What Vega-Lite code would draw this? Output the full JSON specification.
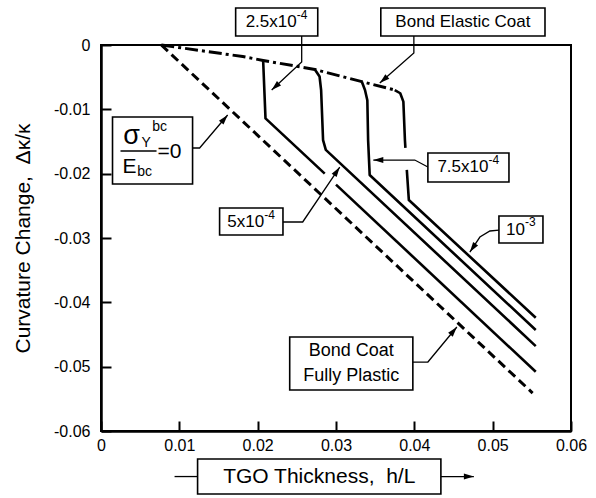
{
  "$schema": "https://vega.github.io/schema/vega-lite/v6.json",
  "width": 470,
  "height": 386,
  "autosize": {"type": "none"},
  "padding": {"left": 101, "top": 45, "right": 25, "bottom": 67},
  "background": "white",
  "config": {
    "view": {"stroke": "black", "strokeWidth": 2},
    "font": "Liberation Sans",
    "axis": {
      "grid": false,
      "domainColor": "black",
      "domainWidth": 2.5,
      "tickColor": "black",
      "tickWidth": 2,
      "tickSize": -10,
      "labelFont": "Liberation Sans",
      "labelFontSize": 16,
      "labelColor": "black",
      "labelFlush": false,
      "labelOverlap": false
    }
  },
  "datasets": {
    "curves": [
      {"series": "plastic", "i": 0, "x": 0.0077, "y": 0},
      {"series": "plastic", "i": 1, "x": 0.0551, "y": -0.0541},
      {"series": "elastic", "i": 0, "x": 0.0077, "y": 0},
      {"series": "elastic", "i": 1, "x": 0.0181, "y": -0.0018},
      {"series": "elastic", "i": 2, "x": 0.0207, "y": -0.0024},
      {"series": "elastic", "i": 3, "x": 0.0273, "y": -0.0038},
      {"series": "elastic", "i": 4, "x": 0.0333, "y": -0.0057},
      {"series": "elastic", "i": 5, "x": 0.0375, "y": -0.0070},
      {"series": "s25a", "i": 0, "x": 0.0207, "y": -0.0024},
      {"series": "s25a", "i": 1, "x": 0.0210, "y": -0.0114},
      {"series": "s25a", "i": 2, "x": 0.02856, "y": -0.0200},
      {"series": "s25b", "i": 0, "x": 0.0300, "y": -0.0217},
      {"series": "s25b", "i": 1, "x": 0.0555, "y": -0.0508},
      {"series": "s50", "i": 0, "x": 0.0273, "y": -0.0038},
      {"series": "s50", "i": 1, "x": 0.0279, "y": -0.0049},
      {"series": "s50", "i": 2, "x": 0.0281, "y": -0.0070},
      {"series": "s50", "i": 3, "x": 0.02835, "y": -0.0148},
      {"series": "s50", "i": 4, "x": 0.0287, "y": -0.0163},
      {"series": "s50", "i": 5, "x": 0.0555, "y": -0.0468},
      {"series": "s75", "i": 0, "x": 0.0333, "y": -0.0057},
      {"series": "s75", "i": 1, "x": 0.0337, "y": -0.0070},
      {"series": "s75", "i": 2, "x": 0.0340, "y": -0.0086},
      {"series": "s75", "i": 3, "x": 0.0341, "y": -0.0148},
      {"series": "s75", "i": 4, "x": 0.0343, "y": -0.0202},
      {"series": "s75", "i": 5, "x": 0.0555, "y": -0.0443},
      {"series": "s100a", "i": 0, "x": 0.0375, "y": -0.0070},
      {"series": "s100a", "i": 1, "x": 0.0382, "y": -0.0075},
      {"series": "s100a", "i": 2, "x": 0.0386, "y": -0.0088},
      {"series": "s100a", "i": 3, "x": 0.0388, "y": -0.0148},
      {"series": "s100a", "i": 4, "x": 0.03886, "y": -0.0160},
      {"series": "s100b", "i": 0, "x": 0.03904, "y": -0.0194},
      {"series": "s100b", "i": 1, "x": 0.0393, "y": -0.0241},
      {"series": "s100b", "i": 2, "x": 0.0555, "y": -0.0424}
    ],
    "leaders": [
      {"id": "a1", "i": 0, "x": 0.02562, "y": 0.0014},
      {"id": "a1", "i": 1, "x": 0.02562, "y": -0.00264},
      {"id": "a1", "i": 2, "x": 0.02179, "y": -0.0070},
      {"id": "a2", "i": 0, "x": 0.03994, "y": 0.0014},
      {"id": "a2", "i": 1, "x": 0.03994, "y": -0.00124},
      {"id": "a2", "i": 2, "x": 0.03559, "y": -0.00591},
      {"id": "a3", "i": 0, "x": 0.01169, "y": -0.01601},
      {"id": "a3", "i": 1, "x": 0.01259, "y": -0.01601},
      {"id": "a3", "i": 2, "x": 0.01617, "y": -0.01088},
      {"id": "a4", "i": 0, "x": 0.02323, "y": -0.02751},
      {"id": "a4", "i": 1, "x": 0.02575, "y": -0.02751},
      {"id": "a4", "i": 2, "x": 0.03048, "y": -0.01897},
      {"id": "a5", "i": 0, "x": 0.04173, "y": -0.01897},
      {"id": "a5", "i": 1, "x": 0.04006, "y": -0.01788},
      {"id": "a5", "i": 2, "x": 0.03476, "y": -0.01788},
      {"id": "a6", "i": 0, "x": 0.0508, "y": -0.02876},
      {"id": "a6", "i": 1, "x": 0.04965, "y": -0.02891},
      {"id": "a6", "i": 2, "x": 0.04837, "y": -0.02985},
      {"id": "a6", "i": 3, "x": 0.04709, "y": -0.03218},
      {"id": "a7", "i": 0, "x": 0.03981, "y": -0.04928},
      {"id": "a7", "i": 1, "x": 0.04173, "y": -0.04928},
      {"id": "a7", "i": 2, "x": 0.04543, "y": -0.04384},
      {"id": "a8", "i": 0, "x": 0.00939, "y": -0.06708},
      {"id": "a8", "i": 1, "x": 0.01233, "y": -0.06708},
      {"id": "a9", "i": 0, "x": 0.04339, "y": -0.06708},
      {"id": "a9", "i": 1, "x": 0.0476, "y": -0.06708}
    ],
    "bars": [
      {"id": "bar", "i": 0, "x": 0.00249, "y": -0.01648},
      {"id": "bar", "i": 1, "x": 0.00709, "y": -0.01648}
    ],
    "heads": [
      {"id": "a1", "x": 0.02179, "y": -0.0070},
      {"id": "a2", "x": 0.03559, "y": -0.00591},
      {"id": "a3", "x": 0.01617, "y": -0.01088},
      {"id": "a4", "x": 0.03048, "y": -0.01897},
      {"id": "a5", "x": 0.03476, "y": -0.01788},
      {"id": "a6", "x": 0.04709, "y": -0.03218},
      {"id": "a7", "x": 0.04543, "y": -0.04384},
      {"id": "a9", "x": 0.0476, "y": -0.06708}
    ],
    "boxes": [
      {"id": "b1", "x": 0.01719, "x2": 0.02767, "y": 0.00575, "y2": 0.0014},
      {"id": "b2", "x": 0.03572, "x2": 0.05668, "y": 0.00575, "y2": 0.0014},
      {"id": "b3", "x": 0.00147, "x2": 0.01169, "y": -0.01119, "y2": -0.02161},
      {"id": "b4", "x": 0.01514, "x2": 0.02323, "y": -0.02534, "y2": -0.02953},
      {"id": "b5", "x": 0.04173, "x2": 0.05208, "y": -0.01679, "y2": -0.0213},
      {"id": "b6", "x": 0.0508, "x2": 0.05642, "y": -0.02658, "y2": -0.03078},
      {"id": "b7", "x": 0.02409, "x2": 0.03981, "y": -0.04539, "y2": -0.05363},
      {"id": "b8", "x": 0.01233, "x2": 0.04339, "y": -0.06436, "y2": -0.06979}
    ],
    "texts": [
      {"kind": "main", "text": "Bond Elastic Coat", "x": 0.0462, "y": 0.00358},
      {"kind": "base", "text": "2.5x10", "x": 0.02498, "y": 0.00358},
      {"kind": "base", "text": "5x10", "x": 0.02083, "y": -0.02751},
      {"kind": "base", "text": "7.5x10", "x": 0.04946, "y": -0.01904},
      {"kind": "base", "text": "10", "x": 0.05412, "y": -0.02868},
      {"kind": "exp", "text": "-4", "x": 0.02498, "y": 0.00466},
      {"kind": "exp", "text": "-4", "x": 0.02083, "y": -0.02643},
      {"kind": "exp", "text": "-4", "x": 0.04946, "y": -0.01795},
      {"kind": "exp", "text": "-3", "x": 0.05412, "y": -0.02759},
      {"kind": "plastic", "text": "Bond Coat", "x": 0.03195, "y": -0.04757},
      {"kind": "plastic", "text": "Fully Plastic", "x": 0.03195, "y": -0.05145},
      {"kind": "xtitle", "text": "TGO Thickness,\u00a0 h/L", "x": 0.02786, "y": -0.06708},
      {"kind": "sigma", "text": "σ", "x": 0.0039, "y": -0.0141},
      {"kind": "small", "text": "Y", "x": 0.00578, "y": -0.01528},
      {"kind": "small", "text": "bc", "x": 0.00748, "y": -0.0127},
      {"kind": "small", "text": "bc", "x": 0.00556, "y": -0.0197},
      {"kind": "E", "text": "E", "x": 0.00364, "y": -0.01892},
      {"kind": "eq", "text": "=0", "x": 0.00875, "y": -0.01659}
    ]
  },
  "encoding": {
    "x": {
      "field": "x", "type": "quantitative",
      "scale": {"domain": [0, 0.06], "nice": false, "zero": false},
      "axis": {
        "title": null,
        "values": [0, 0.01, 0.02, 0.03, 0.04, 0.05, 0.06],
        "labelExpr": "datum.value == 0 ? '0' : format(datum.value, '.2f')",
        "labelPadding": 16
      }
    },
    "y": {
      "field": "y", "type": "quantitative",
      "scale": {"domain": [-0.06, 0], "nice": false, "zero": false},
      "axis": {
        "title": "Curvature Change,\u00a0 Δκ/κ",
        "titleFont": "Liberation Sans",
        "titleFontSize": 21,
        "titleFontWeight": "normal",
        "titleColor": "black",
        "titleX": -78,
        "titleY": 193,
        "titleAngle": -90,
        "titleAlign": "center",
        "titleBaseline": "middle",
        "values": [0, -0.01, -0.02, -0.03, -0.04, -0.05, -0.06],
        "labelExpr": "datum.value == 0 ? '0' : '-' + format(abs(datum.value), '.2f')",
        "labelPadding": 21
      }
    }
  },
  "layer": [
    {
      "data": {"name": "curves"},
      "transform": [{"filter": "datum.series == 'plastic'"}],
      "mark": {"type": "line", "color": "black", "strokeWidth": 3, "strokeDash": [9, 5]},
      "encoding": {"order": {"field": "i", "type": "quantitative"}}
    },
    {
      "data": {"name": "curves"},
      "transform": [{"filter": "datum.series == 'elastic'"}],
      "mark": {"type": "line", "color": "black", "strokeWidth": 3, "strokeDash": [13, 4, 3, 4]},
      "encoding": {"order": {"field": "i", "type": "quantitative"}}
    },
    {
      "data": {"name": "curves"},
      "transform": [{"filter": "datum.series != 'plastic' && datum.series != 'elastic'"}],
      "mark": {"type": "line", "color": "black", "strokeWidth": 2.6, "strokeJoin": "round"},
      "encoding": {
        "detail": {"field": "series", "type": "nominal"},
        "order": {"field": "i", "type": "quantitative"}
      }
    },
    {
      "data": {"name": "leaders"},
      "mark": {"type": "line", "color": "black", "strokeWidth": 1.3},
      "encoding": {
        "detail": {"field": "id", "type": "nominal"},
        "order": {"field": "i", "type": "quantitative"}
      }
    },
    {
      "data": {"name": "boxes"},
      "mark": {"type": "rect", "fill": "white", "stroke": "black", "strokeWidth": 1.6},
      "encoding": {
        "x2": {"field": "x2"},
        "y2": {"field": "y2"}
      }
    },
    {
      "data": {"name": "bars"},
      "mark": {"type": "line", "color": "black", "strokeWidth": 1.5},
      "encoding": {"order": {"field": "i", "type": "quantitative"}}
    },
    {
      "data": {"name": "heads"},
      "transform": [{"filter": "datum.id == 'a1'"}],
      "mark": {"type": "point", "shape": "M0,0L-2,-0.6L-2,0.6Z", "size": 100, "filled": true, "fill": "black", "opacity": 1, "strokeWidth": 0, "angle": 137}
    },
    {
      "data": {"name": "heads"},
      "transform": [{"filter": "datum.id == 'a2'"}],
      "mark": {"type": "point", "shape": "M0,0L-2,-0.6L-2,0.6Z", "size": 100, "filled": true, "fill": "black", "opacity": 1, "strokeWidth": 0, "angle": 139}
    },
    {
      "data": {"name": "heads"},
      "transform": [{"filter": "datum.id == 'a3'"}],
      "mark": {"type": "point", "shape": "M0,0L-2,-0.6L-2,0.6Z", "size": 100, "filled": true, "fill": "black", "opacity": 1, "strokeWidth": 0, "angle": 310}
    },
    {
      "data": {"name": "heads"},
      "transform": [{"filter": "datum.id == 'a4'"}],
      "mark": {"type": "point", "shape": "M0,0L-2,-0.6L-2,0.6Z", "size": 100, "filled": true, "fill": "black", "opacity": 1, "strokeWidth": 0, "angle": 304}
    },
    {
      "data": {"name": "heads"},
      "transform": [{"filter": "datum.id == 'a5'"}],
      "mark": {"type": "point", "shape": "M0,0L-2,-0.6L-2,0.6Z", "size": 100, "filled": true, "fill": "black", "opacity": 1, "strokeWidth": 0, "angle": 180}
    },
    {
      "data": {"name": "heads"},
      "transform": [{"filter": "datum.id == 'a6'"}],
      "mark": {"type": "point", "shape": "M0,0L-2,-0.6L-2,0.6Z", "size": 100, "filled": true, "fill": "black", "opacity": 1, "strokeWidth": 0, "angle": 125}
    },
    {
      "data": {"name": "heads"},
      "transform": [{"filter": "datum.id == 'a7'"}],
      "mark": {"type": "point", "shape": "M0,0L-2,-0.6L-2,0.6Z", "size": 100, "filled": true, "fill": "black", "opacity": 1, "strokeWidth": 0, "angle": 310}
    },
    {
      "data": {"name": "heads"},
      "transform": [{"filter": "datum.id == 'a9'"}],
      "mark": {"type": "point", "shape": "M0,0L-2,-0.6L-2,0.6Z", "size": 100, "filled": true, "fill": "black", "opacity": 1, "strokeWidth": 0, "angle": 0}
    },
    {
      "data": {"name": "texts"},
      "transform": [{"filter": "datum.kind == 'main'"}],
      "mark": {"type": "text", "font": "Liberation Sans", "fontSize": 17, "color": "black", "align": "center", "baseline": "middle"},
      "encoding": {"text": {"field": "text"}}
    },
    {
      "data": {"name": "texts"},
      "transform": [{"filter": "datum.kind == 'base'"}],
      "mark": {"type": "text", "font": "Liberation Sans", "fontSize": 17, "color": "black", "align": "right", "baseline": "middle"},
      "encoding": {"text": {"field": "text"}}
    },
    {
      "data": {"name": "texts"},
      "transform": [{"filter": "datum.kind == 'exp'"}],
      "mark": {"type": "text", "font": "Liberation Sans", "fontSize": 12, "color": "black", "align": "left", "baseline": "middle"},
      "encoding": {"text": {"field": "text"}}
    },
    {
      "data": {"name": "texts"},
      "transform": [{"filter": "datum.kind == 'plastic'"}],
      "mark": {"type": "text", "font": "Liberation Sans", "fontSize": 18, "color": "black", "align": "center", "baseline": "middle"},
      "encoding": {"text": {"field": "text"}}
    },
    {
      "data": {"name": "texts"},
      "transform": [{"filter": "datum.kind == 'xtitle'"}],
      "mark": {"type": "text", "font": "Liberation Sans", "fontSize": 21, "color": "black", "align": "center", "baseline": "middle"},
      "encoding": {"text": {"field": "text"}}
    },
    {
      "data": {"name": "texts"},
      "transform": [{"filter": "datum.kind == 'sigma'"}],
      "mark": {"type": "text", "font": "Liberation Sans", "fontSize": 27, "color": "black", "align": "center", "baseline": "middle"},
      "encoding": {"text": {"field": "text"}}
    },
    {
      "data": {"name": "texts"},
      "transform": [{"filter": "datum.kind == 'small'"}],
      "mark": {"type": "text", "font": "Liberation Sans", "fontSize": 14, "color": "black", "align": "center", "baseline": "middle"},
      "encoding": {"text": {"field": "text"}}
    },
    {
      "data": {"name": "texts"},
      "transform": [{"filter": "datum.kind == 'E' || datum.kind == 'eq'"}],
      "mark": {"type": "text", "font": "Liberation Sans", "fontSize": 21, "color": "black", "align": "center", "baseline": "middle"},
      "encoding": {"text": {"field": "text"}}
    }
  ]
}
